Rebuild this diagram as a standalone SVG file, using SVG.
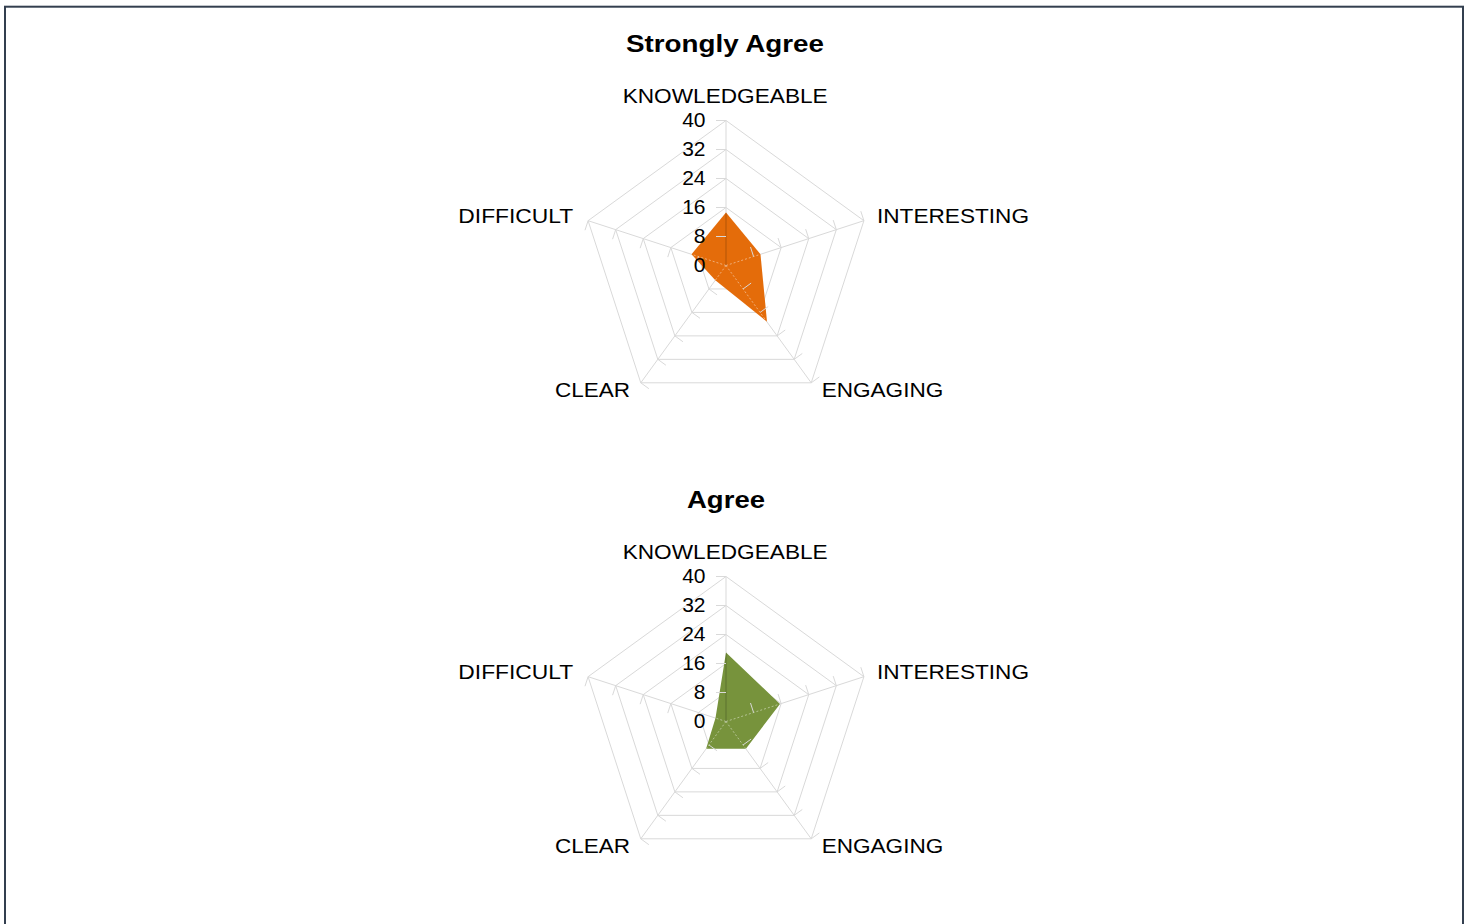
<svg xmlns="http://www.w3.org/2000/svg" xmlns:xlink="http://www.w3.org/1999/xlink" width="1470" height="924" viewBox="0 0 1470 924">
<style>
.grid{fill:none;stroke:#d9d9d9;stroke-width:1}
.over{fill:none;stroke:#ffffff;stroke-opacity:.45;stroke-width:1;stroke-dasharray:2 2}
.axis{fill:none;stroke:#000;stroke-opacity:.22;stroke-width:1}
.title{font-family:"Liberation Sans",Arial,sans-serif;font-weight:bold;font-size:24.5px;fill:#000}
.lbl{font-family:"Liberation Sans",Arial,sans-serif;font-size:21px;fill:#000}
.num{font-family:"Liberation Sans",Arial,sans-serif;font-size:21px;fill:#000;text-anchor:end}
.sa{fill:#e46c0a}
.ag{fill:#77933c}
</style>
<defs>
<g id="grid">
<polygon class="grid" points="0,-29 27.58,-8.96 17.05,23.46 -17.05,23.46 -27.58,-8.96"/>
<polygon class="grid" points="0,-58 55.16,-17.92 34.09,46.92 -34.09,46.92 -55.16,-17.92"/>
<polygon class="grid" points="0,-87 82.74,-26.88 51.14,70.38 -51.14,70.38 -82.74,-26.88"/>
<polygon class="grid" points="0,-116 110.32,-35.85 68.18,93.85 -68.18,93.85 -110.32,-35.85"/>
<polygon class="grid" points="0,-145 137.9,-44.81 85.23,117.31 -85.23,117.31 -137.9,-44.81"/>
<path class="grid" d="M0 0L0 -145M0 0L137.9 -44.81M0 0L85.23 117.31M0 0L-85.23 117.31M0 0L-137.9 -44.81"/>
</g>
<path id="ticks" class="grid" d="M0 -29h-10M0 -58h-10M0 -87h-10M0 -116h-10M0 -145h-10
M27.58 -8.96l-3.09 -9.51M55.16 -17.92l-3.09 -9.51M82.74 -26.88l-3.09 -9.51M110.32 -35.85l-3.09 -9.51M137.9 -44.81l-3.09 -9.51
M17.05 23.46l8.09 -5.88M34.09 46.92l8.09 -5.88M51.14 70.38l8.09 -5.88M68.18 93.85l8.09 -5.88M85.23 117.31l8.09 -5.88
M-17.05 23.46l8.09 5.88M-34.09 46.92l8.09 5.88M-51.14 70.38l8.09 5.88M-68.18 93.85l8.09 5.88M-85.23 117.31l8.09 5.88
M-27.58 -8.96l-3.09 9.51M-55.16 -17.92l-3.09 9.51M-82.74 -26.88l-3.09 9.51M-110.32 -35.85l-3.09 9.51M-137.9 -44.81l-3.09 9.51"/>
<g id="spokesOver">
<path class="over" d="M0 0L137.9 -44.81M0 0L85.23 117.31M0 0L-85.23 117.31M0 0L-137.9 -44.81"/>
<path class="axis" d="M0 0L0 -145"/>
</g>
<clipPath id="clipSA"><polygon points="726,212.5 760.48,254.3 767,321.7 715.34,280.17 691.52,254.3"/></clipPath>
<clipPath id="clipAG"><polygon points="726,652.5 780,703.9 745.9,748.8 706.1,748.8 715.5,718.1"/></clipPath>
</defs>
<rect x="5" y="6.7" width="1458" height="930" fill="#ffffff" stroke="#333f4f" stroke-width="2"/>

<g id="chart-strongly-agree">
<text class="title" x="626" y="51.7" textLength="198" lengthAdjust="spacingAndGlyphs">Strongly Agree</text>
<use xlink:href="#grid" href="#grid" x="726" y="265.5"/>
<polygon class="sa" points="726,212.5 760.48,254.3 767,321.7 715.34,280.17 691.52,254.3"/>
<g clip-path="url(#clipSA)"><use xlink:href="#spokesOver" href="#spokesOver" x="726" y="265.5"/></g>
<use xlink:href="#ticks" href="#ticks" x="726" y="265.5"/>
<text class="lbl" x="622.7" y="103.3" textLength="205" lengthAdjust="spacingAndGlyphs">KNOWLEDGEABLE</text>
<text class="lbl" x="877" y="223.3" textLength="152" lengthAdjust="spacingAndGlyphs">INTERESTING</text>
<text class="lbl" x="821.7" y="396.7" textLength="121.6" lengthAdjust="spacingAndGlyphs">ENGAGING</text>
<text class="lbl" x="555" y="396.7" textLength="75" lengthAdjust="spacingAndGlyphs">CLEAR</text>
<text class="lbl" x="458.3" y="223.3" textLength="115" lengthAdjust="spacingAndGlyphs">DIFFICULT</text>
<text class="num" x="705.5" y="126.5">40</text>
<text class="num" x="705.5" y="155.5">32</text>
<text class="num" x="705.5" y="184.5">24</text>
<text class="num" x="705.5" y="213.5">16</text>
<text class="num" x="705.5" y="242.5">8</text>
<text class="num" x="705.5" y="271.5">0</text>
</g>

<g id="chart-agree">
<text class="title" x="687" y="507.7" textLength="78" lengthAdjust="spacingAndGlyphs">Agree</text>
<use xlink:href="#grid" href="#grid" x="726" y="721.5"/>
<polygon class="ag" points="726,652.5 780,703.9 745.9,748.8 706.1,748.8 715.5,718.1"/>
<g clip-path="url(#clipAG)"><use xlink:href="#spokesOver" href="#spokesOver" x="726" y="721.5"/></g>
<use xlink:href="#ticks" href="#ticks" x="726" y="721.5"/>
<text class="lbl" x="622.7" y="559.3" textLength="205" lengthAdjust="spacingAndGlyphs">KNOWLEDGEABLE</text>
<text class="lbl" x="877" y="679.3" textLength="152" lengthAdjust="spacingAndGlyphs">INTERESTING</text>
<text class="lbl" x="821.7" y="852.7" textLength="121.6" lengthAdjust="spacingAndGlyphs">ENGAGING</text>
<text class="lbl" x="555" y="852.7" textLength="75" lengthAdjust="spacingAndGlyphs">CLEAR</text>
<text class="lbl" x="458.3" y="679.3" textLength="115" lengthAdjust="spacingAndGlyphs">DIFFICULT</text>
<text class="num" x="705.5" y="582.5">40</text>
<text class="num" x="705.5" y="611.5">32</text>
<text class="num" x="705.5" y="640.5">24</text>
<text class="num" x="705.5" y="669.5">16</text>
<text class="num" x="705.5" y="698.5">8</text>
<text class="num" x="705.5" y="727.5">0</text>
</g>
</svg>
